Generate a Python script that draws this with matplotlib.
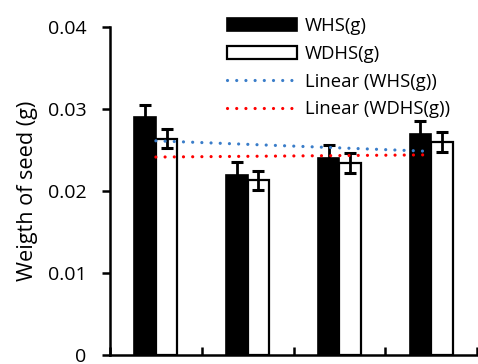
import numpy as np
import matplotlib
matplotlib.use("Agg")
import matplotlib.pyplot as plt

# Seed weight per treatment group (g) with standard errors
groups = [1, 2, 3, 4]
whs = [0.0290, 0.0220, 0.0240, 0.0269]
whs_err = [0.0015, 0.0015, 0.0016, 0.0016]
wdhs = [0.0264, 0.0213, 0.0234, 0.0260]
wdhs_err = [0.0012, 0.0012, 0.0012, 0.0012]

series_names = ["WHS(g)", "WDHS(g)"]
ylabel = "Weigth of seed (g)"
yticks = [0, 0.01, 0.02, 0.03, 0.04]
ytick_labels = ["0", "0.01", "0.02", "0.03", "0.04"]

plt.rcParams['font.family'] = ['Open Sans', 'DejaVu Sans']
FS = 14

fig = plt.figure(figsize=(4.78, 3.64), dpi=100)
ax = fig.add_axes([110 / 478, 1 - 355 / 364, (477 - 110) / 478, (355 - 27) / 364])

x = np.array(groups, dtype=float)
bw = 0.235
err_kw = dict(ecolor='black', elinewidth=2.0, capsize=4.3, capthick=2.2)

ax.bar(x - bw / 2, whs, bw, color='black', edgecolor='black', linewidth=1.2,
       yerr=whs_err, error_kw=err_kw, label=series_names[0], zorder=2)
ax.bar(x + bw / 2, wdhs, bw, color='white', edgecolor='black', linewidth=1.6,
       yerr=wdhs_err, error_kw=err_kw, label=series_names[1], zorder=2)

# Linear trendlines through each series
lw_dot = 2.3
dot_style = (0, (0.01, 6.6 / lw_dot))
for vals, col, name in [(whs, '#3A7DC9', series_names[0]), (wdhs, '#FF0000', series_names[1])]:
    k, b = np.polyfit(x, vals, 1)
    ax.plot(x, k * x + b, color=col, linewidth=lw_dot, linestyle=dot_style,
            dash_capstyle='round', label=f"Linear ({name})", zorder=3)

ax.set_xlim(0.5, 4.5)
ax.set_ylim(0, 0.04)
ax.set_yticks(yticks)
ax.set_yticklabels(ytick_labels, fontsize=FS)
ax.set_xticks([0.5, 1.5, 2.5, 3.5, 4.5])
ax.set_xticklabels([])
ax.tick_params(axis='y', direction='out', length=6, width=1.8, pad=11)
ax.tick_params(axis='x', direction='in', length=6, width=1.8)
ax.set_ylabel(ylabel, fontsize=15.6, labelpad=7)

for s in ['top', 'right']:
    ax.spines[s].set_visible(False)
for s in ['left', 'bottom']:
    ax.spines[s].set_linewidth(1.8)

handles, labels = ax.get_legend_handles_labels()
order = [2, 3, 0, 1]
handles = [handles[i] for i in order]
labels = [labels[i] for i in order]
leg = fig.legend(handles, labels, loc='upper left',
                 bbox_to_anchor=(227 / 478, 1 - 17 / 364), frameon=False,
                 fontsize=13.3, handlelength=3.8, handleheight=0.75,
                 handletextpad=0.4, labelspacing=0.53, borderpad=0, borderaxespad=0)

fig.savefig("out.png", dpi=100)
